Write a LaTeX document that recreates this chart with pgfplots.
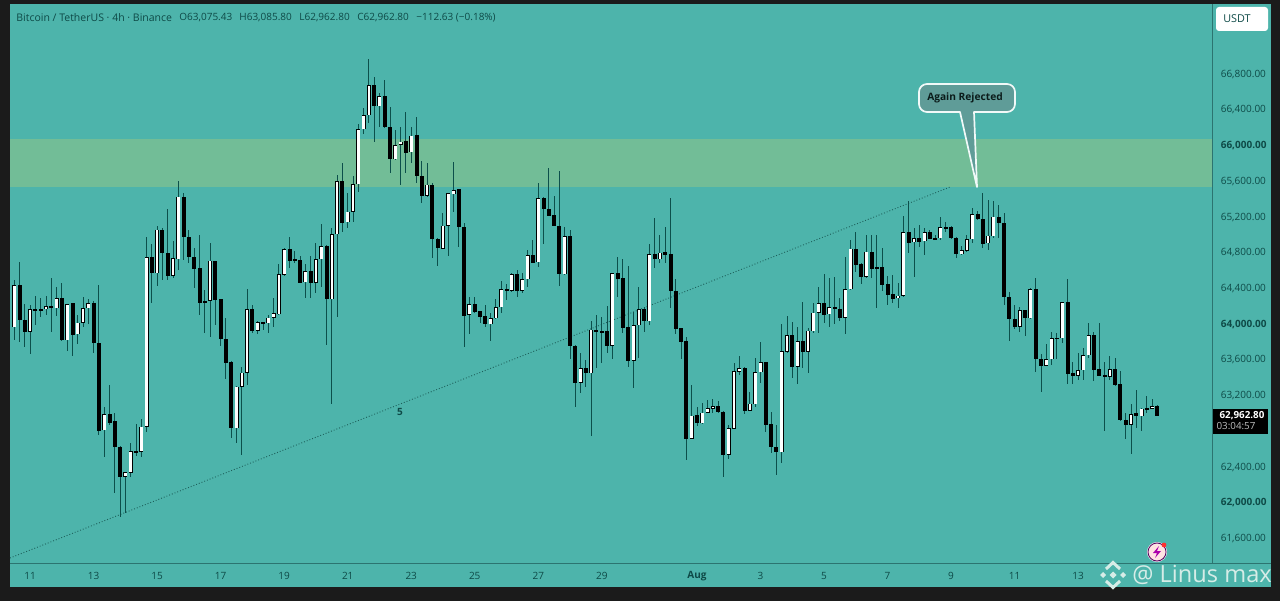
\documentclass[border=0pt]{standalone}
\usepackage{fontspec}
\setmainfont{Open Sans}
\usepackage{pgfplots}
\usepackage{pgfplotstable}
\pgfplotsset{compat=1.18}
\definecolor{frame}{HTML}{1B1B1B}
\definecolor{teal}{HTML}{4DB4AB}
\definecolor{zone}{HTML}{72BD97}
\definecolor{ink}{HTML}{0E4A47}
\definecolor{wick}{HTML}{0C4F4B}
\definecolor{axisl}{HTML}{2C7470}
\definecolor{trend}{HTML}{1D5F5B}
\definecolor{callout}{HTML}{5F9C98}
\definecolor{wm}{HTML}{D6ECE7}
\pgfplotstableread{
i o h l c
0 63952 64482 63810 64422
1 64422 64684 63792 64034
2 64034 64213 63736 63903
3 63903 64202 63653 64154
4 64154 64303 63978 64142
5 64154 64277 64071 64142
6 64154 64303 64090 64191
7 64195 64501 63896 64169
8 64165 64400 64083 64277
9 64277 64452 63800 63810
10 63810 64213 63687 64213
11 64221 64228 63635 63866
12 63874 64090 63765 64004
13 64004 64295 63959 64169
14 64165 64266 63995 64221
15 64228 64251 63668 63773
16 63780 64426 62746 62795
17 62802 63064 62496 62978
18 62978 63306 62858 62884
19 62903 62989 62100 62608
20 62616 62620 61832 62280
21 62280 62330 61876 62328
22 62324 62660 62272 62567
23 62560 62869 62511 62552
24 62556 62922 62504 62840
25 62840 64960 62784 64736
26 64736 64885 64221 64564
27 64557 65087 64415 65042
28 65042 65061 64482 64781
29 64781 65274 64482 64527
30 64531 64923 64501 64725
31 64714 65595 64594 65415
32 65415 65460 64706 64967
33 64967 65042 64676 64743
34 64743 64837 64389 64609
35 64613 64986 64090 64221
36 64239 64370 63892 64232
37 64251 64893 63841 64695
38 64699 64700 63980 64258
39 64266 64270 63743 63818
40 63825 64061 63370 63557
41 63564 63570 62709 62821
42 62821 63290 62660 63288
43 63288 63512 62522 63445
44 63445 64381 63306 64154
45 64154 64202 63885 63915
46 63915 64027 63877 64012
47 64012 64016 63922 63997
48 63997 64090 63885 64060
49 64060 64277 63960 64109
50 64101 64658 64090 64546
51 64542 64837 64527 64826
52 64826 64960 64613 64699
53 64710 64811 64669 64702
54 64706 64751 64445 64452
55 64456 64661 64277 64579
56 64579 64751 64277 64452
57 64452 64893 64333 64714
58 64714 65109 64407 64863
59 64863 64870 63754 64266
60 64266 65061 63094 64997
61 64997 65658 64072 65587
62 65587 65789 65024 65124
63 65128 65453 65061 65248
64 65248 65651 65136 65554
65 65554 66229 65471 66173
66 66170 66412 66117 66330
67 66330 66953 66244 66662
68 66662 66752 66031 66431
69 66431 66573 66192 66543
70 66543 66722 66181 66192
71 66192 66416 65684 65834
72 65834 66162 65830 65994
73 65998 66192 65546 66031
74 66035 66367 65684 65908
75 65912 66192 65789 66099
76 66106 66304 65572 65647
77 65647 65819 65348 65427
78 65423 65789 65415 65550
79 65550 65572 64725 64945
80 64945 64950 64643 64837
81 64833 65229 64829 65091
82 65091 65455 64755 65453
83 65442 65804 65247 65490
84 65498 65500 64848 65072
85 65079 65124 63736 64083
86 64090 64296 63874 64213
87 64213 64288 64109 64128
88 64139 64140 64004 64072
89 64079 64202 63960 63989
90 63989 64109 63803 64053
91 64053 64266 64042 64176
92 64176 64475 64116 64378
93 64378 64437 64258 64363
94 64363 64564 64352 64549
95 64549 64594 64288 64363
96 64363 64564 64340 64493
97 64493 64818 64408 64758
98 64758 64930 64669 64676
99 64684 65565 64632 65397
100 65397 65408 64885 65274
101 65277 65733 65200 65203
102 65210 65423 65085 65087
103 65091 65707 64415 64546
104 64546 65079 64538 64975
105 64975 65042 63594 63747
106 63747 63750 63056 63332
107 63332 63668 63220 63497
108 63497 63586 63288 63437
109 63437 64027 62739 63922
110 63922 64090 63500 63904
111 63907 64064 63549 63900
112 63911 64191 63661 63747
113 63747 64560 63594 64557
114 64557 64736 64288 64493
115 64501 64714 63885 63948
116 63952 64643 63511 63579
117 63579 64127 63269 63974
118 63974 64407 63605 64154
119 64154 64183 63903 64019
120 64019 64885 63974 64773
121 64773 65173 64613 64717
122 64717 64986 64669 64788
123 64792 65072 64669 64766
124 64773 65397 64165 64363
125 64363 64490 63874 63933
126 63941 63945 63597 63791
127 63799 63840 62466 62701
128 62705 63306 62700 62963
129 62966 63064 62847 62877
130 62877 63108 62869 62996
131 62996 63138 62989 63049
132 63041 63146 62989 63067
133 63067 63131 62989 63000
134 63004 63019 62272 62522
135 62522 62858 62474 62821
136 62817 63549 62810 63459
137 63452 63635 63418 63497
138 63497 63504 62981 63019
139 63019 63231 63015 63097
140 63093 63605 63056 63448
141 63448 63784 63332 63560
142 63560 63567 62784 62858
143 62866 63008 62548 62608
144 62616 62858 62298 62556
145 62552 63989 62429 63683
146 63680 64079 63661 63862
147 63862 64015 63388 63511
148 63511 63959 63317 63795
149 63795 64239 63493 63676
150 63676 63941 63444 63915
151 63911 64228 63885 64116
152 64116 64407 63885 64221
153 64221 64546 63997 64094
154 64101 64501 63952 64176
155 64176 64512 63989 64161
156 64161 64277 64027 64060
157 64060 64743 63877 64381
158 64381 64930 64370 64833
159 64833 65016 64575 64654
160 64661 64669 64437 64519
161 64519 64986 64501 64799
162 64799 64986 64501 64605
163 64624 64986 64172 64613
164 64624 64837 64363 64430
165 64437 64527 64202 64314
166 64322 64538 64221 64269
167 64277 64452 64165 64307
168 64307 65199 64295 65016
169 65016 65371 64781 64900
170 64904 65061 64519 64949
171 64949 65098 64848 64911
172 64915 65061 64762 65016
173 65023 65042 64938 64941
174 64949 64986 64938 64941
175 64949 65191 64930 65072
176 65072 65135 65023 65064
177 65072 65087 64938 64952
178 64956 64960 64725 64773
179 64773 64863 64762 64818
180 64811 64986 64799 64938
181 64938 65285 64893 65218
182 65221 65259 65154 65162
183 65169 65460 64837 64889
184 64893 65378 64818 64975
185 64975 65367 64949 65191
186 65191 65322 64949 65117
187 65117 65229 64202 64288
188 64295 64351 63803 64042
189 64042 64202 63930 63959
190 63959 64176 63903 64146
191 64146 64150 63855 64053
192 64053 64389 64042 64381
193 64381 64501 63448 63597
194 63601 63653 63232 63523
195 63523 63765 63520 63594
196 63594 63903 63530 63829
197 63833 63885 63594 63825
198 63829 64240 63773 64236
199 64236 64490 63317 63426
200 63441 63568 63317 63411
201 63411 63661 63362 63470
202 63470 63717 63362 63638
203 63638 64004 63605 63862
204 63862 63903 63355 63474
205 63485 64004 63407 63411
206 63411 63560 62795 63400
207 63400 63631 63362 63482
208 63485 63605 63295 63302
209 63314 63463 62907 62910
210 62918 62989 62698 62858
211 62862 63093 62533 62981
212 62989 63250 62825 62959
213 62959 63045 62795 63041
214 63045 63183 62989 63037
215 63041 63149 63034 63071
216 63075.43 63085.80 62962.80 62962.80
}\candles
\newcommand{\sz}[1]{\fontsize{#1}{#1}\selectfont}
\begin{document}
\begin{tikzpicture}
\useasboundingbox (0,0) rectangle (640pt,300.5pt);
\fill[frame] (0,0) rectangle (640pt,300.5pt);
\begin{scope}[x=0.5pt,y=-0.5pt,yshift=300.5pt]
\fill[teal] (9.5,4.3) rectangle (1271,587);
\end{scope}
\begin{axis}[
  at={(5pt,19pt)}, anchor=south west,
  width=601pt, height=279.5pt, scale only axis,
  xmin=-0.81, xmax=226.3, ymin=61312, ymax=67573,
  scaled x ticks=false, scaled y ticks=false,
  axis x line*=bottom, axis y line*=right,
  axis line style={draw=axisl,line width=0.35pt,-},
  major tick length=0pt,
  xtick={3,15,27,39,51,63,75,87,99,111,129,141,153,165,177,189,201},
  xticklabels={11,13,15,17,19,21,23,25,27,29,\textbf{Aug},3,5,7,9,11,13},
  ytick={61600,62000,62400,63200,63600,64000,64400,64800,65200,65600,66000,66400,66800},
  yticklabels={{61,600.00},{\textbf{62,000.00}},{62,400.00},{63,200.00},{63,600.00},{\textbf{64,000.00}},{64,400.00},{64,800.00},{65,200.00},{65,600.00},{\textbf{66,000.00}},{66,400.00},{66,800.00}},
  yticklabel pos=right,
  tick label style={font=\sz{5},text=ink},
  yticklabel style={anchor=west,inner sep=0pt,xshift=4.2pt,yshift=-0.6pt},
  xticklabel style={anchor=center,inner sep=0pt,yshift=-6.4pt},
]
\addplot[fill=zone,draw=none,forget plot] coordinates {(-0.81,65523) (226.3,65523) (226.3,66061) (-0.81,66061)} --cycle;
\addplot[densely dotted,draw=trend,line width=0.45pt,forget plot] coordinates {(-0.81,61368) (176.8,65523)};
\addplot[draw=none,mark=none,forget plot,error bars/.cd,y dir=both,y explicit,error mark=none,
  error bar style={draw=wick,line width=0.5pt,solid}]
  table[x=i,y expr={(\thisrow{h}+\thisrow{l})/2},y error expr={(\thisrow{h}-\thisrow{l})/2}] {\candles};
\addplot[draw=none,mark=none,forget plot,error bars/.cd,y dir=both,y explicit,error mark=none,
  error bar style={draw=black,line width=2pt,solid}]
  table[x=i,y expr={(\thisrow{o}+\thisrow{c})/2},y error expr={max(abs(\thisrow{c}-\thisrow{o})/2,9)}] {\candles};
\addplot[draw=none,mark=none,forget plot,error bars/.cd,y dir=both,y explicit,error mark=none,
  error bar style={draw=white,line width=1.3pt,solid}]
  table[x=i,y expr={(\thisrow{o}+\thisrow{c})/2},y error expr={\thisrow{c}>\thisrow{o} ? max(abs(\thisrow{c}-\thisrow{o})/2-6,3) : 0}] {\candles};
\end{axis}
\begin{scope}[x=0.5pt,y=-0.5pt,yshift=300.5pt]
% second rule under the price scale
\draw[axisl,line width=0.35pt] (1212,563) -- (1271,563);
% header
\begin{scope}[every node/.style={anchor=west,inner sep=0pt,text=ink}]
\node[font=\sz{5.25}] at (16,18) {Bitcoin / TetherUS · 4h · Binance};
\node[font=\sz{5}] at (179,18) {O63,075.43};
\node[font=\sz{5}] at (239,18) {H63,085.80};
\node[font=\sz{5}] at (299,18) {L62,962.80};
\node[font=\sz{5}] at (357,18) {C62,962.80};
\node[font=\sz{5}] at (416,18) {−112.63 (−0.18\%)};
\end{scope}
% USDT button
\fill[white,rounded corners=1.5pt] (1216,7) rectangle (1268,31);
\node[text=ink,font=\sz{5.4},inner sep=0pt] at (1237,18.5) {USDT};
% last price tag
\fill[black] (1213,409) rectangle (1268,434);
\node[text=white,font=\bfseries\sz{4.9},inner sep=0pt] at (1242,415.5) {62,962.80};
\node[text=white!75!black,font=\sz{4.9},inner sep=0pt] at (1236,426.5) {03:04:57};
% label on the trend line
\node[text=ink,font=\bfseries\sz{5},inner sep=0pt] at (400,411.5) {5};
% callout
\draw[fill=callout,draw=white!92!teal,line width=0.85pt,line join=round]
  (960,112) [rounded corners=4pt] -- (919,112) -- (919,84) -- (1015,84) -- (1015,112) [sharp corners] -- (974,112) -- (977,187) -- cycle;
\node[text=black!85!teal,font=\bfseries\sz{5.1},inner sep=0pt] at (965,98) {Again Rejected};
% lightning badge
\fill[white!90!violet] (1157,552) circle (10);
\fill[pink!45!white] (1157,552) circle (8);
\draw[violet!70!black,line width=0.4pt] (1157,552) circle (9);
\fill[violet!65!magenta] (1159,546) -- (1153,553) -- (1157,553) -- (1155,558) -- (1161,551) -- (1157,551) -- cycle;
\fill[red!75!pink] (1164,545) circle (2.4);
% watermark
\begin{scope}[wm]
\fill (1113,571.5) -- (1116.5,575) -- (1113,578.5) -- (1109.5,575) -- cycle;
\fill (1103,572) -- (1106,575) -- (1103,578) -- (1100,575) -- cycle;
\fill (1123,572) -- (1126,575) -- (1123,578) -- (1120,575) -- cycle;
\draw[line width=1.5pt] (1106,569) -- (1113,562.5) -- (1120,569);
\draw[line width=1.5pt] (1106,581) -- (1113,587.5) -- (1120,581);
\node[text=wm,font=\sz{11.8},inner sep=0pt,anchor=west] at (1132,574.5) {@ Linus max};
\end{scope}
\end{scope}
\end{tikzpicture}
\end{document}
